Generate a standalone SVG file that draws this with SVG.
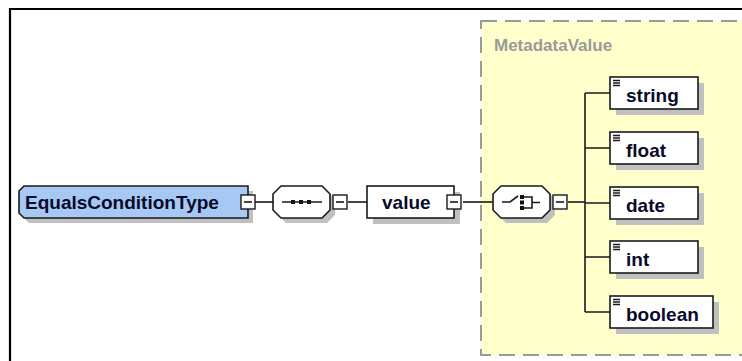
<svg xmlns="http://www.w3.org/2000/svg" width="742" height="361" viewBox="0 0 742 361">
<defs>
<style>
.t{font-family:"Liberation Sans",Arial,sans-serif;font-weight:bold;font-size:19px;fill:#0a0a2a}
.shadow{fill:#c0c0c0;stroke:none}
.box{fill:#ffffff;stroke:#1a1a1a;stroke-width:1.6}
.ln{stroke:#1a1a1a;stroke-width:1.6;fill:none}
.mb{fill:#ffffff;stroke:#1a1a1a;stroke-width:1.4}
</style>
</defs>
<rect x="0" y="0" width="742" height="361" fill="#ffffff"/>
<path d="M10,362 V9 H743" fill="none" stroke="#000" stroke-width="2.2"/>
<g id="MetadataValue">
<rect x="481" y="21" width="270" height="334" fill="#ffffcc" stroke="#9a9a9a" stroke-width="2" stroke-dasharray="16 8"/>
<text x="494" y="51" style="font-family:'Liberation Sans',Arial,sans-serif;font-weight:bold;font-size:17px;fill:#9a9a9a">MetadataValue</text>
</g>
<g id="connectors">
<path class="ln" d="M253,202 H273"/>
<path class="ln" d="M348,202 H367"/>
<path class="ln" d="M463,202 H493"/>
<path class="ln" d="M568,202 H585"/>
<path class="ln" d="M585,93 V312"/>
<path class="ln" d="M585,93 H610 M585,148 H610 M585,203 H610 M585,257 H610 M585,312 H610"/>
</g>
<g id="EqualsConditionType">
<polygon class="shadow" points="29,191 253,191 253,223 29,223 24,218 24,196"/>
<polygon points="24,186 248,186 248,218 24,218 19,213 19,191" fill="#a6c8f2" stroke="#1a1a1a" stroke-width="1.6"/>
<text class="t" x="25" y="209">EqualsConditionType</text>
<rect class="mb" x="241" y="195" width="14" height="14"/>
<path class="ln" d="M244,202 H252"/>
</g>
<g id="sequence">
<polygon class="shadow" points="286,191 327,191 335,199 335,215 327,223 286,223 278,215 278,199"/>
<polygon class="box" points="281,186 322,186 330,194 330,210 322,218 281,218 273,210 273,194"/>
<path class="ln" d="M282,202 H322"/>
<rect x="291" y="200" width="4" height="4" fill="#111"/>
<rect x="299" y="200" width="4" height="4" fill="#111"/>
<rect x="307" y="200" width="4" height="4" fill="#111"/>
<rect class="mb" x="333" y="195" width="14" height="14"/>
<path class="ln" d="M336,202 H344"/>
</g>
<g id="value">
<rect class="shadow" x="373" y="192" width="87" height="32"/>
<rect class="box" x="367" y="186" width="87" height="32"/>
<text class="t" x="382" y="209">value</text>
<rect class="mb" x="447" y="195" width="14" height="14"/>
<path class="ln" d="M450,202 H458"/>
</g>
<g id="choice">
<polygon class="shadow" points="506,191 547,191 555,199 555,215 547,223 506,223 498,215 498,199"/>
<polygon class="box" points="501,186 542,186 550,194 550,210 542,218 501,218 493,210 493,194"/>
<path class="ln" d="M502,202 H510 L518,196"/>
<rect x="520" y="195" width="4" height="4" fill="#111"/>
<rect x="520" y="200.5" width="4" height="4" fill="#111"/>
<rect x="520" y="206" width="4" height="4" fill="#111"/>
<path class="ln" d="M524,197 H532 V208 H524 M532,202.5 H540"/>
<rect class="mb" x="553" y="195" width="14" height="14"/>
<path class="ln" d="M556,202 H564"/>
</g>
<g id="string">
<rect class="shadow" x="616" y="83" width="88" height="32"/>
<rect class="box" x="610" y="77" width="88" height="32"/>
<path class="ln" d="M613,80.5 H620 M613,83 H620 M613,85.5 H620" stroke-width="1"/>
<text class="t" x="626" y="102">string</text>
</g>
<g id="float">
<rect class="shadow" x="616" y="138" width="88" height="32"/>
<rect class="box" x="610" y="132" width="88" height="32"/>
<path class="ln" d="M613,135.5 H620 M613,138 H620 M613,140.5 H620" stroke-width="1"/>
<text class="t" x="626" y="157">float</text>
</g>
<g id="date">
<rect class="shadow" x="616" y="193" width="88" height="32"/>
<rect class="box" x="610" y="187" width="88" height="32"/>
<path class="ln" d="M613,190.5 H620 M613,193 H620 M613,195.5 H620" stroke-width="1"/>
<text class="t" x="626" y="212">date</text>
</g>
<g id="int">
<rect class="shadow" x="616" y="247" width="88" height="32"/>
<rect class="box" x="610" y="241" width="88" height="32"/>
<path class="ln" d="M613,244.5 H620 M613,247 H620 M613,249.5 H620" stroke-width="1"/>
<text class="t" x="626" y="266">int</text>
</g>
<g id="boolean">
<rect class="shadow" x="616" y="302" width="103" height="32"/>
<rect class="box" x="610" y="296" width="103" height="32"/>
<path class="ln" d="M613,299.5 H620 M613,302 H620 M613,304.5 H620" stroke-width="1"/>
<text class="t" x="626" y="321">boolean</text>
</g>
</svg>
